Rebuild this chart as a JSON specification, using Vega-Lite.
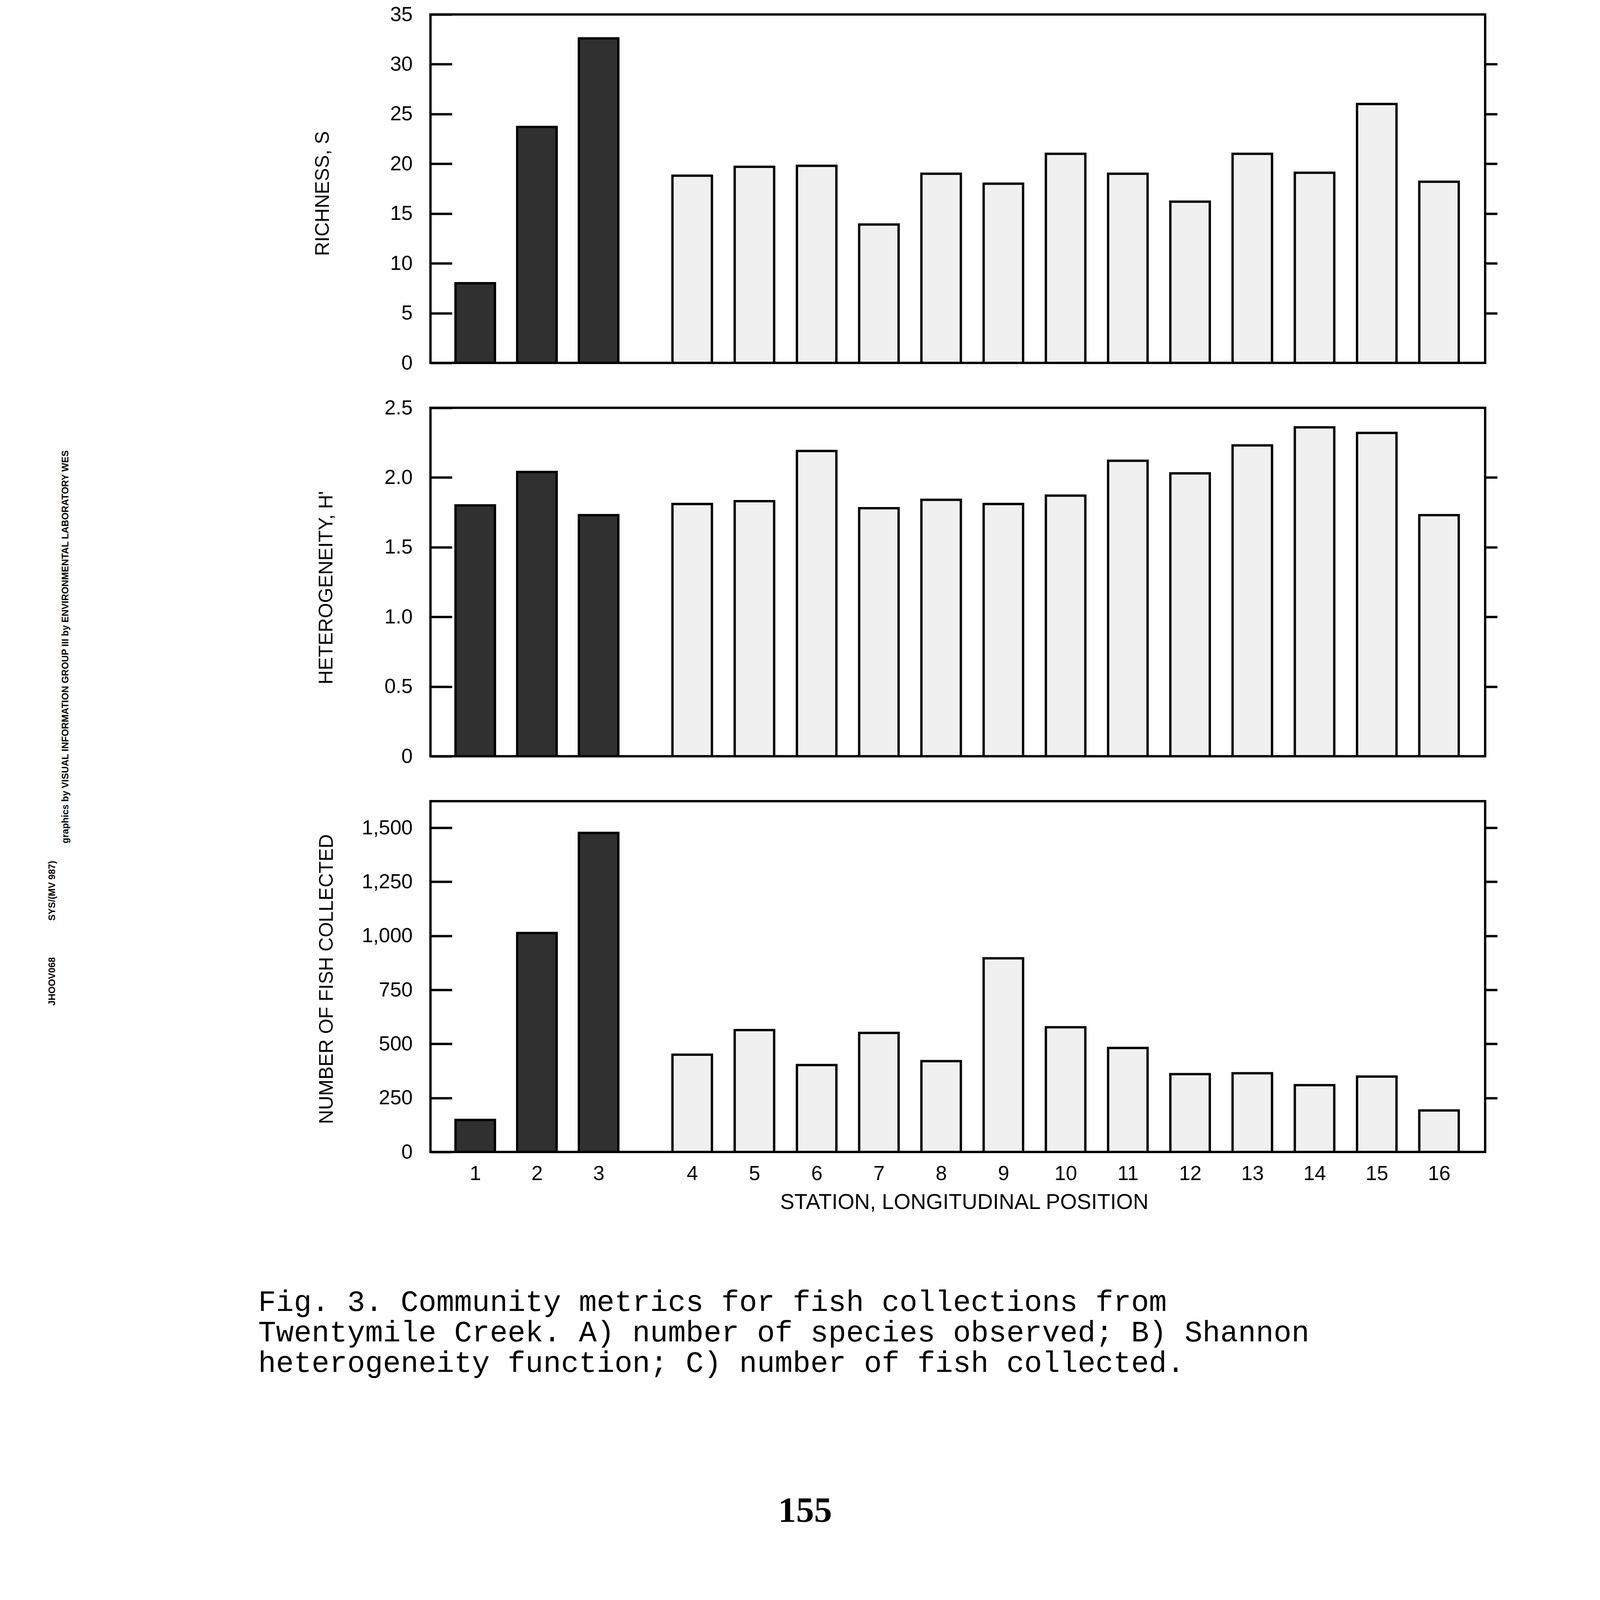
{
  "$schema": "https://vega.github.io/schema/vega-lite/v6.json",
  "background": "white",
  "padding": {"left": 121, "top": 8, "right": 10, "bottom": 10},
  "config": {
    "view": {"stroke": "black", "strokeWidth": 6},
    "font": "Liberation Sans",
    "axis": {"domain": false, "grid": false, "labelFont": "Liberation Sans", "labelFontSize": 52, "labelColor": "black", "labelLimit": 1000, "labelOverlap": false, "labelFlush": false, "titleFont": "Liberation Sans", "titleFontSize": 50, "titleFontWeight": "normal", "titleColor": "black", "titleLimit": 3000, "tickColor": "black", "tickWidth": 6},
    "bar": {"stroke": "black", "strokeWidth": 6, "width": 101}
  },
  "datasets": {
    "fish": [
      {"station": 1, "reach": "upper", "richness": 8.0, "hprime": 1.80, "count": 148},
      {"station": 2, "reach": "upper", "richness": 23.7, "hprime": 2.04, "count": 1013},
      {"station": 3, "reach": "upper", "richness": 32.6, "hprime": 1.73, "count": 1476},
      {"station": 4, "reach": "lower", "richness": 18.8, "hprime": 1.81, "count": 450},
      {"station": 5, "reach": "lower", "richness": 19.7, "hprime": 1.83, "count": 564},
      {"station": 6, "reach": "lower", "richness": 19.8, "hprime": 2.19, "count": 402},
      {"station": 7, "reach": "lower", "richness": 13.9, "hprime": 1.78, "count": 551},
      {"station": 8, "reach": "lower", "richness": 19.0, "hprime": 1.84, "count": 420},
      {"station": 9, "reach": "lower", "richness": 18.0, "hprime": 1.81, "count": 896},
      {"station": 10, "reach": "lower", "richness": 21.0, "hprime": 1.87, "count": 577},
      {"station": 11, "reach": "lower", "richness": 19.0, "hprime": 2.12, "count": 481},
      {"station": 12, "reach": "lower", "richness": 16.2, "hprime": 2.03, "count": 360},
      {"station": 13, "reach": "lower", "richness": 21.0, "hprime": 2.23, "count": 364},
      {"station": 14, "reach": "lower", "richness": 19.1, "hprime": 2.36, "count": 309},
      {"station": 15, "reach": "lower", "richness": 26.0, "hprime": 2.32, "count": 349},
      {"station": 16, "reach": "lower", "richness": 18.2, "hprime": 1.73, "count": 192}
    ]
  },
  "title": {"text": "155", "orient": "bottom", "anchor": "start", "frame": "bounds", "font": "Liberation Serif", "fontSize": 92, "fontWeight": "bold", "color": "black", "offset": 296, "dx": 1870, "limit": 0},
  "vconcat": [
    {
      "title": {"text": ["Fig. 3. Community metrics for fish collections from", "Twentymile Creek. A) number of species observed; B) Shannon", "heterogeneity function; C) number of fish collected."], "orient": "bottom", "anchor": "start", "frame": "bounds", "font": "Liberation Mono", "fontSize": 76, "fontWeight": "normal", "lineHeight": 78, "color": "black", "offset": 188, "dx": 539, "limit": 0},
      "vconcat": [
        {
          "title": {"text": "JHOOV068\u00a0\u00a0\u00a0\u00a0\u00a0\u00a0\u00a0\u00a0\u00a0\u00a0\u00a0\u00a0\u00a0\u00a0SYS/(MV 987)", "orient": "left", "anchor": "middle", "frame": "bounds", "font": "Liberation Sans", "fontSize": 24, "fontWeight": "bold", "color": "black", "offset": 10, "dx": -831, "limit": 0},
          "vconcat": [
            {
              "title": {"text": "graphics by VISUAL INFORMATION GROUP III by ENVIRONMENTAL LABORATORY WES", "orient": "left", "anchor": "middle", "frame": "bounds", "font": "Liberation Sans", "fontSize": 24, "fontWeight": "bold", "color": "black", "offset": 618, "dx": -98, "limit": 0},
              "spacing": 83,
              "vconcat": [
                {
                  "spacing": 57,
                  "vconcat": [
                    {
                      "width": 2700, "height": 892,
                      "data": {"name": "fish"},
                      "layer": [
                        {
                          "mark": {"type": "bar"},
                          "encoding": {
                            "x": {"field": "station", "type": "quantitative", "scale": {"domain": [0.305, 3, 4, 16.711], "range": [0, 430.4, 670.0, 2700], "nice": false, "zero": false}, "axis": {"labels": false, "ticks": false, "title": null}},
                            "y": {"field": "richness", "type": "quantitative", "scale": {"domain": [0, 35], "nice": false}, "axis": {"orient": "left", "values": [0, 5, 10, 15, 20, 25, 30, 35], "format": "d", "tickSize": -55, "labelPadding": 101, "title": "RICHNESS, S", "titleX": -276, "titleY": 458, "titleAngle": -90, "titleAlign": "center", "titleBaseline": "middle"}},
                            "fill": {"field": "reach", "type": "nominal", "scale": {"domain": ["upper", "lower"], "range": ["#303030", "#f0f0f0"]}, "legend": null}
                          }
                        },
                        {
                          "mark": {"type": "bar", "opacity": 0},
                          "encoding": {
                            "x": {"field": "station", "type": "quantitative", "scale": {"domain": [0.305, 3, 4, 16.711], "range": [0, 430.4, 670.0, 2700], "nice": false, "zero": false}, "axis": {"labels": false, "ticks": false, "title": null}},
                            "y": {"field": "richness", "type": "quantitative", "scale": {"domain": [0, 35], "nice": false}, "axis": {"orient": "right", "values": [5, 10, 15, 20, 25, 30], "labels": false, "tickSize": 31, "title": null}}
                          }
                        }
                      ],
                      "resolve": {"axis": {"y": "independent"}}
                    },
                    {
                      "width": 2700, "height": 892,
                      "data": {"name": "fish"},
                      "layer": [
                        {
                          "mark": {"type": "bar"},
                          "encoding": {
                            "x": {"field": "station", "type": "quantitative", "scale": {"domain": [0.305, 3, 4, 16.711], "range": [0, 430.4, 670.0, 2700], "nice": false, "zero": false}, "axis": {"labels": false, "ticks": false, "title": null}},
                            "y": {"field": "hprime", "type": "quantitative", "scale": {"domain": [0, 2.5], "nice": false}, "axis": {"orient": "left", "values": [0, 0.5, 1, 1.5, 2, 2.5], "labelExpr": "datum.value === 0 ? '0' : format(datum.value, '.1f')", "tickSize": -55, "labelPadding": 101, "title": "HETEROGENEITY, H'", "titleX": -267, "titleY": 460, "titleAngle": -90, "titleAlign": "center", "titleBaseline": "middle"}},
                            "fill": {"field": "reach", "type": "nominal", "scale": {"domain": ["upper", "lower"], "range": ["#303030", "#f0f0f0"]}, "legend": null}
                          }
                        },
                        {
                          "mark": {"type": "bar", "opacity": 0},
                          "encoding": {
                            "x": {"field": "station", "type": "quantitative", "scale": {"domain": [0.305, 3, 4, 16.711], "range": [0, 430.4, 670.0, 2700], "nice": false, "zero": false}, "axis": {"labels": false, "ticks": false, "title": null}},
                            "y": {"field": "hprime", "type": "quantitative", "scale": {"domain": [0, 2.5], "nice": false}, "axis": {"orient": "right", "values": [0.5, 1, 1.5, 2], "labels": false, "tickSize": 31, "title": null}}
                          }
                        }
                      ],
                      "resolve": {"axis": {"y": "independent"}}
                    }
                  ]
                },
                {
                  "width": 2700, "height": 898,
                  "data": {"name": "fish"},
                  "layer": [
                    {
                      "mark": {"type": "bar"},
                      "encoding": {
                        "x": {"field": "station", "type": "quantitative", "scale": {"domain": [0.305, 3, 4, 16.711], "range": [0, 430.4, 670.0, 2700], "nice": false, "zero": false}, "axis": {"values": [1, 2, 3, 4, 5, 6, 7, 8, 9, 10, 11, 12, 13, 14, 15, 16], "format": "d", "ticks": false, "labelPadding": 30, "title": "STATION, LONGITUDINAL POSITION", "titleFontSize": 55, "titleX": 1366, "titleY": 102, "titleAlign": "center", "titleBaseline": "top"}},
                        "y": {"field": "count", "type": "quantitative", "scale": {"domain": [0, 1623], "nice": false}, "axis": {"orient": "left", "values": [0, 250, 500, 750, 1000, 1250, 1500], "labelExpr": "format(datum.value, ',d')", "tickSize": -55, "labelPadding": 101, "title": "NUMBER OF FISH COLLECTED", "titleX": -266, "titleY": 455, "titleAngle": -90, "titleAlign": "center", "titleBaseline": "middle"}},
                        "fill": {"field": "reach", "type": "nominal", "scale": {"domain": ["upper", "lower"], "range": ["#303030", "#f0f0f0"]}, "legend": null}
                      }
                    },
                    {
                      "mark": {"type": "bar", "opacity": 0},
                      "encoding": {
                        "x": {"field": "station", "type": "quantitative", "scale": {"domain": [0.305, 3, 4, 16.711], "range": [0, 430.4, 670.0, 2700], "nice": false, "zero": false}, "axis": {"values": [1, 2, 3, 4, 5, 6, 7, 8, 9, 10, 11, 12, 13, 14, 15, 16], "format": "d", "ticks": false, "labelPadding": 30, "title": "STATION, LONGITUDINAL POSITION", "titleFontSize": 55, "titleX": 1366, "titleY": 102, "titleAlign": "center", "titleBaseline": "top"}},
                        "y": {"field": "count", "type": "quantitative", "scale": {"domain": [0, 1623], "nice": false}, "axis": {"orient": "right", "values": [250, 500, 750, 1000, 1250, 1500], "labels": false, "tickSize": 31, "title": null}}
                      }
                    }
                  ],
                  "resolve": {"axis": {"y": "independent"}}
                }
              ]
            }
          ]
        }
      ]
    }
  ]
}
